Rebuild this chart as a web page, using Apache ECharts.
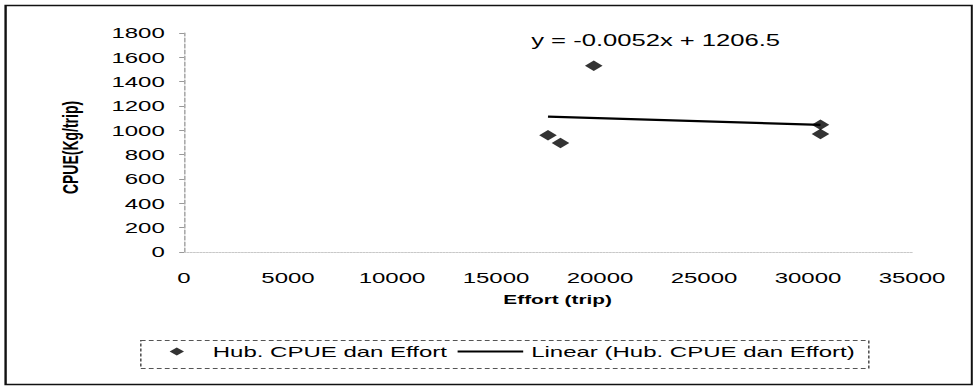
<!DOCTYPE html>
<html>
<head>
<meta charset="utf-8">
<script src="https://cdn.jsdelivr.net/npm/echarts@6/dist/echarts.min.js"></script>
<style>
  html, body { margin: 0; padding: 0; background: #fff; overflow: hidden; }
  #wrap { width: 973px; height: 386px; overflow: hidden; }
  #chart { width: 608px; height: 386px; transform: scaleX(1.6); transform-origin: 0 0; }
</style>
</head>
<body>
<div id="wrap"><div id="chart"></div></div>
<script>
// ---- data ----
const effort = [17500, 18100, 19700, 30600, 30600];
const cpue   = [960, 895, 1530, 1045, 970];
const trendEffort = [17500, 30600];
const trendCpue   = [1113, 1045];
const xTicks = { min: 0, max: 35000, interval: 5000 };
const yTicks = { min: 0, max: 1800, interval: 200 };
const seriesName = 'Hub. CPUE dan Effort';
const trendName = 'Linear (Hub. CPUE dan Effort)';
const equationText = 'y = -0.0052x + 1206.5';
const xTitle = 'Effort (trip)';
const yTitle = 'CPUE(Kg/trip)';

const font = '"Liberation Sans", Arial, Helvetica, sans-serif';
const chart = echarts.init(document.getElementById('chart'), null, { renderer: 'svg' });
const plain = v => String(v);

const option = {
  backgroundColor: '#fff',
  animation: false,
  textStyle: { fontFamily: font, color: '#000' },
  grid: { left: 115, right: 38, top: 33, bottom: 134 },
  xAxis: {
    type: 'value',
    min: xTicks.min, max: xTicks.max, interval: xTicks.interval,
    name: xTitle,
    nameLocation: 'middle',
    nameGap: 48,
    nameTextStyle: { fontFamily: font, fontSize: 13, fontWeight: 'bold', color: '#000', verticalAlign: 'middle', padding: [0, 0, 0, 12] },
    axisLine: { show: true, lineStyle: { color: '#c8c8c8', width: 1, type: 'dotted' } },
    axisTick: { show: false },
    splitLine: { show: false },
    axisLabel: { fontFamily: font, fontSize: 15, color: '#000', margin: 18, formatter: plain }
  },
  yAxis: {
    type: 'value',
    min: yTicks.min, max: yTicks.max, interval: yTicks.interval,
    name: yTitle,
    nameLocation: 'middle',
    nameGap: 71,
    nameTextStyle: { fontFamily: font, fontSize: 14, fontWeight: 'bold', color: '#000', verticalAlign: 'middle', align: 'center', padding: [0, 10, 0, 0] },
    axisLine: { show: true, lineStyle: { color: '#aaa', width: 1, type: 'dashed' } },
    axisTick: { show: true, length: 3, lineStyle: { color: '#999' } },
    splitLine: { show: false },
    axisLabel: { fontFamily: font, fontSize: 15, color: '#000', margin: 12, formatter: plain }
  },
  legend: [
    {
      left: 106, top: 344, padding: 0,
      itemWidth: 9, itemHeight: 8,
      textStyle: { fontFamily: font, fontSize: 15, color: '#000', padding: [0, 0, 0, 13] },
      data: [{ name: seriesName, icon: 'diamond' }]
    },
    {
      left: 286, top: 344, padding: 0,
      itemWidth: 41, itemHeight: 2,
      textStyle: { fontFamily: font, fontSize: 15, color: '#000' },
      data: [{ name: trendName, icon: 'path://M0,0 L41,0 L41,2 L0,2 Z' }]
    }
  ],
  graphic: [
    { type: 'rect', left: 1, top: 3, silent: true,
      shape: { width: 604, height: 379 },
      style: { fill: 'none', stroke: '#111', lineWidth: 1.5 } },
    { type: 'rect', left: 85.5, top: 338, silent: true,
      shape: { width: 455, height: 28 },
      style: { fill: 'none', stroke: '#555', lineWidth: 1, lineDash: [3, 2] } },
    { type: 'text', left: 332, top: 33, silent: true,
      style: { text: equationText, font: '16px ' + font, fill: '#000' } }
  ],
  series: [
    {
      name: seriesName,
      type: 'scatter',
      symbol: 'diamond',
      symbolSize: [11, 10.5],
      itemStyle: { color: '#000' },
      data: effort.map((x, i) => [x, cpue[i]]),
      z: 3
    },
    {
      name: trendName,
      type: 'line',
      symbol: 'none',
      lineStyle: { color: '#000', width: 2.2 },
      itemStyle: { color: '#000' },
      data: trendEffort.map((x, i) => [x, trendCpue[i]]),
      z: 2
    }
  ]
};
chart.setOption(option);
</script>
</body>
</html>
